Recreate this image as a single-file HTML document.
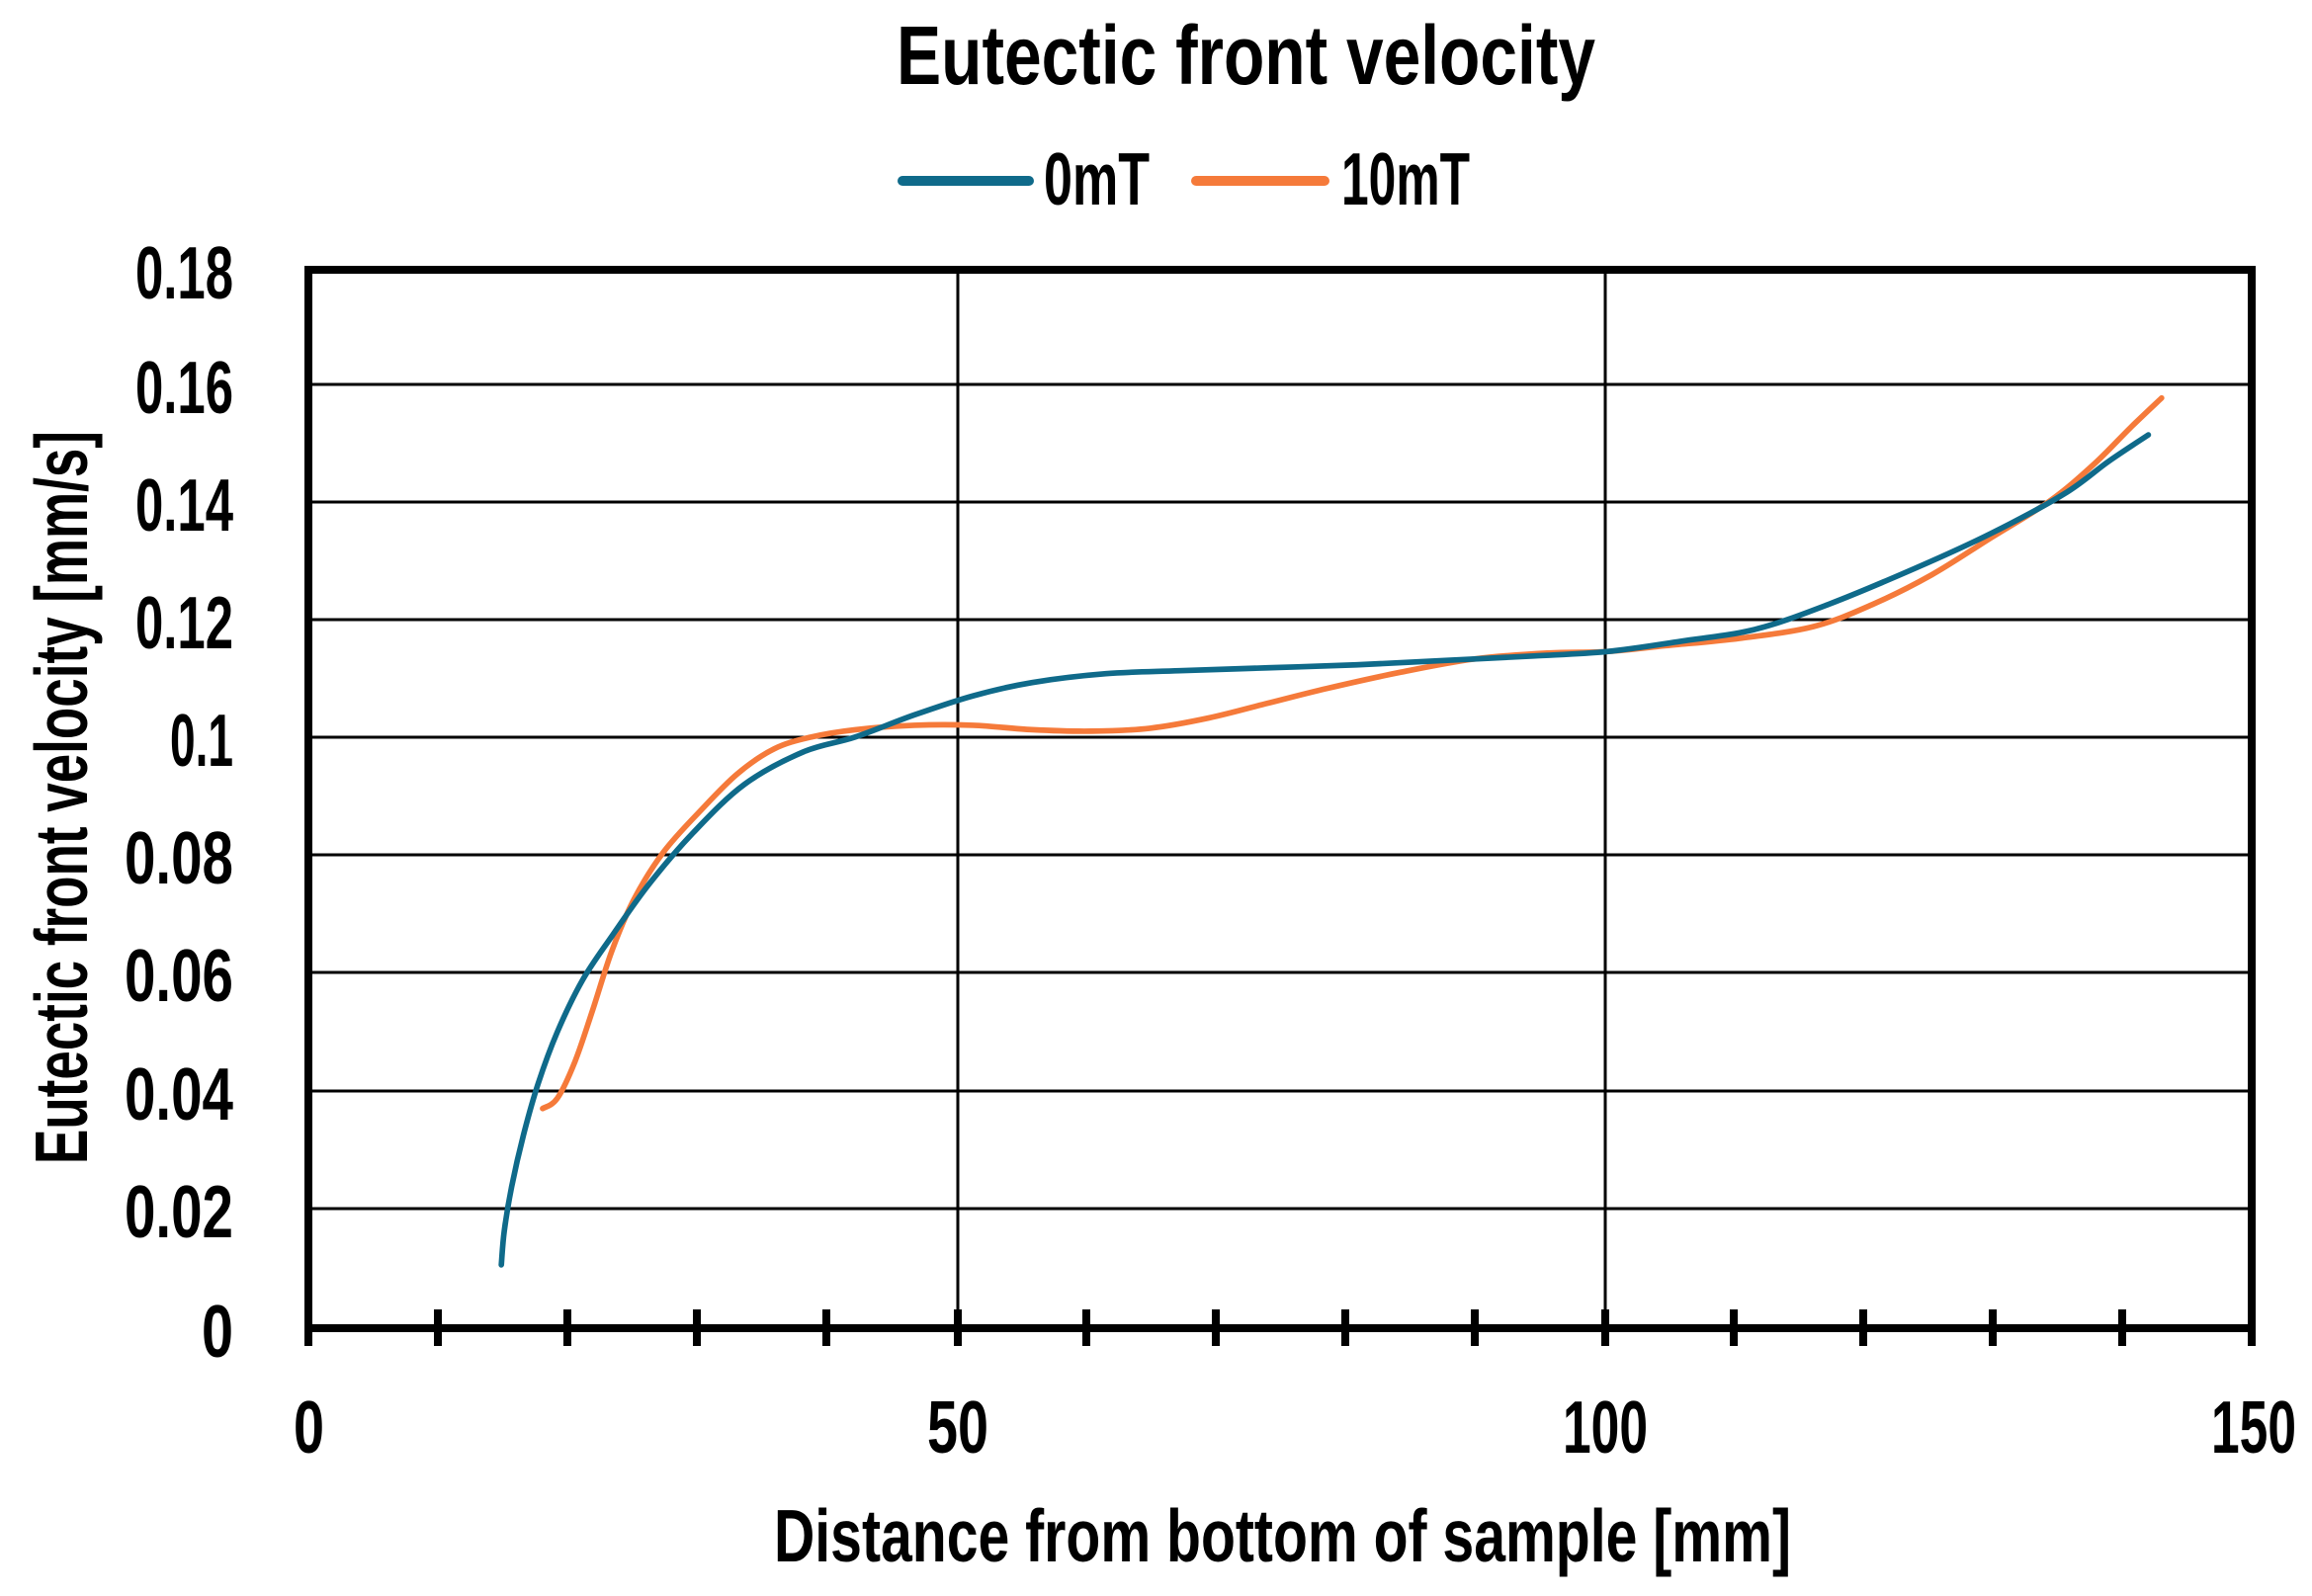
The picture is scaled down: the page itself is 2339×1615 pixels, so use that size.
<!DOCTYPE html>
<html><head><meta charset="utf-8"><style>
html,body{margin:0;padding:0;background:#fff;}
svg{display:block;}
text{font-family:"Liberation Sans Narrow","Liberation Sans",sans-serif;fill:#000;font-weight:bold;}
</style></head><body>
<svg id="s" width="2339" height="1615" viewBox="0 0 2339 1615" xmlns="http://www.w3.org/2000/svg">
<rect width="2339" height="1615" fill="#fff"/>
<text x="907" y="85" font-size="84" textLength="707" lengthAdjust="spacingAndGlyphs">Eutectic front velocity</text>
<line x1="913" y1="183" x2="1041" y2="183" stroke="#0f6a8a" stroke-width="10" stroke-linecap="round"/>
<text x="1056" y="207" font-size="75" textLength="107" lengthAdjust="spacingAndGlyphs">0mT</text>
<line x1="1210" y1="183" x2="1340" y2="183" stroke="#f57a3a" stroke-width="10" stroke-linecap="round"/>
<text x="1357" y="207" font-size="75" textLength="130" lengthAdjust="spacingAndGlyphs">10mT</text>
<g stroke="#000" stroke-width="3">
<line x1="312" y1="389" x2="2278" y2="389"/>
<line x1="312" y1="508" x2="2278" y2="508"/>
<line x1="312" y1="627" x2="2278" y2="627"/>
<line x1="312" y1="746" x2="2278" y2="746"/>
<line x1="312" y1="865" x2="2278" y2="865"/>
<line x1="312" y1="984" x2="2278" y2="984"/>
<line x1="312" y1="1104" x2="2278" y2="1104"/>
<line x1="312" y1="1223" x2="2278" y2="1223"/>
<line x1="969" y1="273" x2="969" y2="1344"/>
<line x1="1624" y1="273" x2="1624" y2="1344"/>
</g>
<rect x="312" y="273" width="1966" height="1071" fill="none" stroke="#000" stroke-width="8"/>
<g stroke="#000" stroke-width="8">
<line x1="312" y1="1325" x2="312" y2="1362"/>
<line x1="443" y1="1325" x2="443" y2="1362"/>
<line x1="574" y1="1325" x2="574" y2="1362"/>
<line x1="705" y1="1325" x2="705" y2="1362"/>
<line x1="836" y1="1325" x2="836" y2="1362"/>
<line x1="969" y1="1325" x2="969" y2="1362"/>
<line x1="1099" y1="1325" x2="1099" y2="1362"/>
<line x1="1230" y1="1325" x2="1230" y2="1362"/>
<line x1="1361" y1="1325" x2="1361" y2="1362"/>
<line x1="1492" y1="1325" x2="1492" y2="1362"/>
<line x1="1624" y1="1325" x2="1624" y2="1362"/>
<line x1="1754" y1="1325" x2="1754" y2="1362"/>
<line x1="1885" y1="1325" x2="1885" y2="1362"/>
<line x1="2016" y1="1325" x2="2016" y2="1362"/>
<line x1="2147" y1="1325" x2="2147" y2="1362"/>
<line x1="2278" y1="1325" x2="2278" y2="1362"/>
</g>
<g font-size="75" text-anchor="end">
<text x="236" y="302" textLength="99" lengthAdjust="spacingAndGlyphs">0.18</text>
<text x="236" y="418" textLength="99" lengthAdjust="spacingAndGlyphs">0.16</text>
<text x="236" y="537" textLength="99" lengthAdjust="spacingAndGlyphs">0.14</text>
<text x="236" y="656" textLength="99" lengthAdjust="spacingAndGlyphs">0.12</text>
<text x="236" y="775" textLength="64" lengthAdjust="spacingAndGlyphs">0.1</text>
<text x="236" y="894" textLength="110" lengthAdjust="spacingAndGlyphs">0.08</text>
<text x="236" y="1013" textLength="110" lengthAdjust="spacingAndGlyphs">0.06</text>
<text x="236" y="1133" textLength="110" lengthAdjust="spacingAndGlyphs">0.04</text>
<text x="236" y="1252" textLength="110" lengthAdjust="spacingAndGlyphs">0.02</text>
<text x="236" y="1373" textLength="32" lengthAdjust="spacingAndGlyphs">0</text>
</g>
<g font-size="75">
<text x="297" y="1470" textLength="31" lengthAdjust="spacingAndGlyphs">0</text>
<text x="938" y="1470" textLength="62" lengthAdjust="spacingAndGlyphs">50</text>
<text x="1581" y="1470" textLength="86" lengthAdjust="spacingAndGlyphs">100</text>
<text x="2237" y="1470" textLength="86" lengthAdjust="spacingAndGlyphs">150</text>
</g>
<text x="783" y="1580" font-size="75" textLength="1029" lengthAdjust="spacingAndGlyphs">Distance from  bottom of sample [mm]</text>
<text transform="translate(88,1178) rotate(-90)" x="0" y="0" font-size="75" textLength="742" lengthAdjust="spacingAndGlyphs">Eutectic front velocity [mm/s]</text>
<g transform="scale(1.4917)" fill="none" stroke-width="3.8" stroke-linecap="round" stroke-linejoin="round">
<polyline class="c" stroke="#f57a3a" points="368,752 378,745 390,720 402,685 415,645 430,610 450,578 475,550 500,525 525,508 550,500 580,495 620,492 660,492 700,495 740,496 780,494 820,487 860,477 900,467 950,456 1000,447 1050,443 1090,442 1130,438 1180,433 1230,425 1270,410 1310,390 1350,365 1390,340 1420,315 1445,290 1466,270"/>
<polyline class="c" stroke="#0f6a8a" points="340,858 342,835 347,805 355,770 365,735 378,700 395,665 415,635 440,600 470,565 505,532 545,510 580,500 620,485 660,472 700,463 750,457 800,455 860,453 920,451 980,448 1040,445 1090,442 1140,435 1190,427 1240,410 1300,385 1350,362 1400,335 1430,313 1457,295"/>
</g>
</svg>
<script>
document.querySelectorAll('polyline.c').forEach(function(pl){
  var p=pl.getAttribute('points').trim().split(/\s+/).map(function(s){return s.split(',').map(Number);});
  var d='M'+p[0][0]+','+p[0][1];
  for(var i=0;i<p.length-1;i++){
    var p0=p[Math.max(i-1,0)],p1=p[i],p2=p[i+1],p3=p[Math.min(i+2,p.length-1)];
    var c1x=p1[0]+(p2[0]-p0[0])/6,c1y=p1[1]+(p2[1]-p0[1])/6;
    var c2x=p2[0]-(p3[0]-p1[0])/6,c2y=p2[1]-(p3[1]-p1[1])/6;
    d+=' C'+c1x+','+c1y+' '+c2x+','+c2y+' '+p2[0]+','+p2[1];
  }
  var path=document.createElementNS('http://www.w3.org/2000/svg','path');
  path.setAttribute('d',d);path.setAttribute('stroke',pl.getAttribute('stroke'));
  pl.parentNode.replaceChild(path,pl);
});
</script>
</body></html>
